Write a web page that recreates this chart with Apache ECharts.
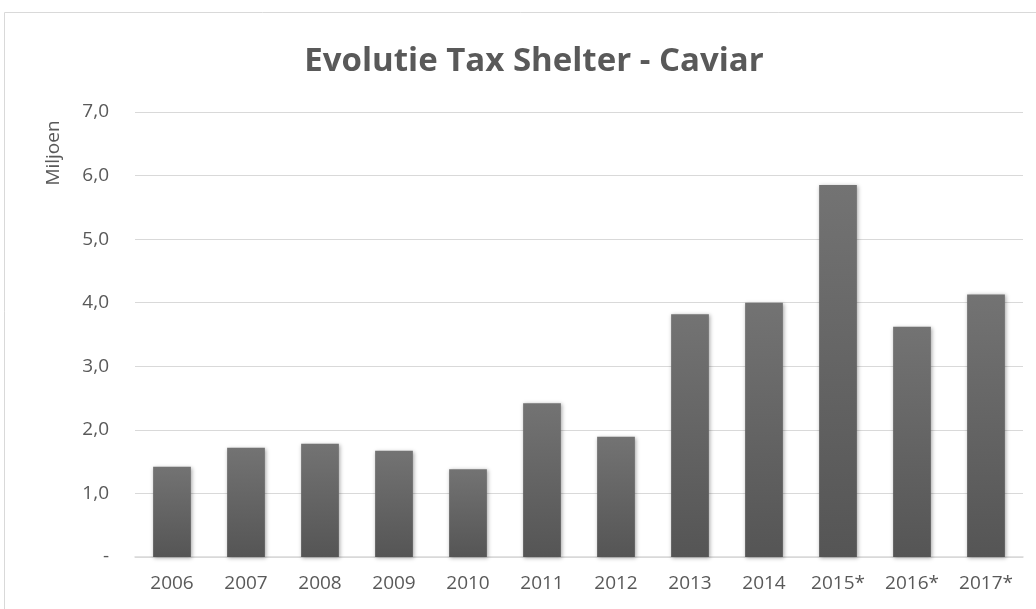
<!DOCTYPE html>
<html>
<head>
<meta charset="utf-8">
<script src="https://cdn.jsdelivr.net/npm/echarts@6/dist/echarts.min.js"></script>
<style>
html,body{margin:0;padding:0;background:#fff;}
#c{width:1036px;height:609px;}
</style>
</head>
<body>
<div id="c"></div>
<script>
const categories = ['2006','2007','2008','2009','2010','2011','2012','2013','2014','2015*','2016*','2017*'];
const values = [1.42, 1.72, 1.78, 1.67, 1.38, 2.42, 1.89, 3.82, 4.00, 5.85, 3.62, 4.13];
const yTickLabels = ['-', '1,0', '2,0', '3,0', '4,0', '5,0', '6,0', '7,0'];
const titleText = 'Evolutie Tax Shelter - Caviar';
const yAxisName = 'Miljoen';

const chart = echarts.init(document.getElementById('c'), null, {renderer: 'canvas'});
const font = '"Open Sans", "Liberation Sans", sans-serif';
chart.setOption({
  animation: false,
  backgroundColor: '#ffffff',
  title: {
    text: titleText,
    left: 529, top: 40, textAlign: 'center',
    textStyle: {fontFamily: font, fontSize: 33, fontWeight: 'bold', color: '#595959'}
  },
  graphic: [{
    type: 'rect', shape: {x: 4.5, y: 12.5, width: 1040, height: 620},
    style: {fill: 'none', stroke: '#d9d9d9', lineWidth: 1}, silent: true
  }, {
    type: 'text', x: 54, y: 153, rotation: Math.PI / 2,
    style: {text: yAxisName, fontFamily: font, fontSize: 19, fill: '#595959', align: 'center', verticalAlign: 'middle'}
  }],
  grid: {left: 135, right: 13, top: 112, bottom: 52},
  xAxis: {
    type: 'category', data: categories,
    axisLine: {show: true, lineStyle: {color: '#d9d9d9', width: 1.5}},
    axisTick: {show: false},
    axisLabel: {fontFamily: font, fontSize: 19, color: '#595959', margin: 17}
  },
  yAxis: {
    type: 'value', min: 0, max: 7, interval: 1,
    axisLine: {show: false}, axisTick: {show: false},
    splitLine: {lineStyle: {color: '#d9d9d9', width: 1}},
    axisLabel: {
      fontFamily: font, fontSize: 19, color: '#595959', margin: 26,
      formatter: function (v) { return yTickLabels[Math.round(v)]; }
    }
  },
  series: [{
    type: 'bar', data: values, barWidth: '51%',
    itemStyle: {
      color: new echarts.graphic.LinearGradient(0, 0, 0, 1, [
        {offset: 0, color: '#737373'}, {offset: 1, color: '#555555'}
      ]),
      shadowColor: 'rgba(0,0,0,0.35)', shadowBlur: 4, shadowOffsetX: 1, shadowOffsetY: 1
    }
  }]
});
</script>
</body>
</html>
